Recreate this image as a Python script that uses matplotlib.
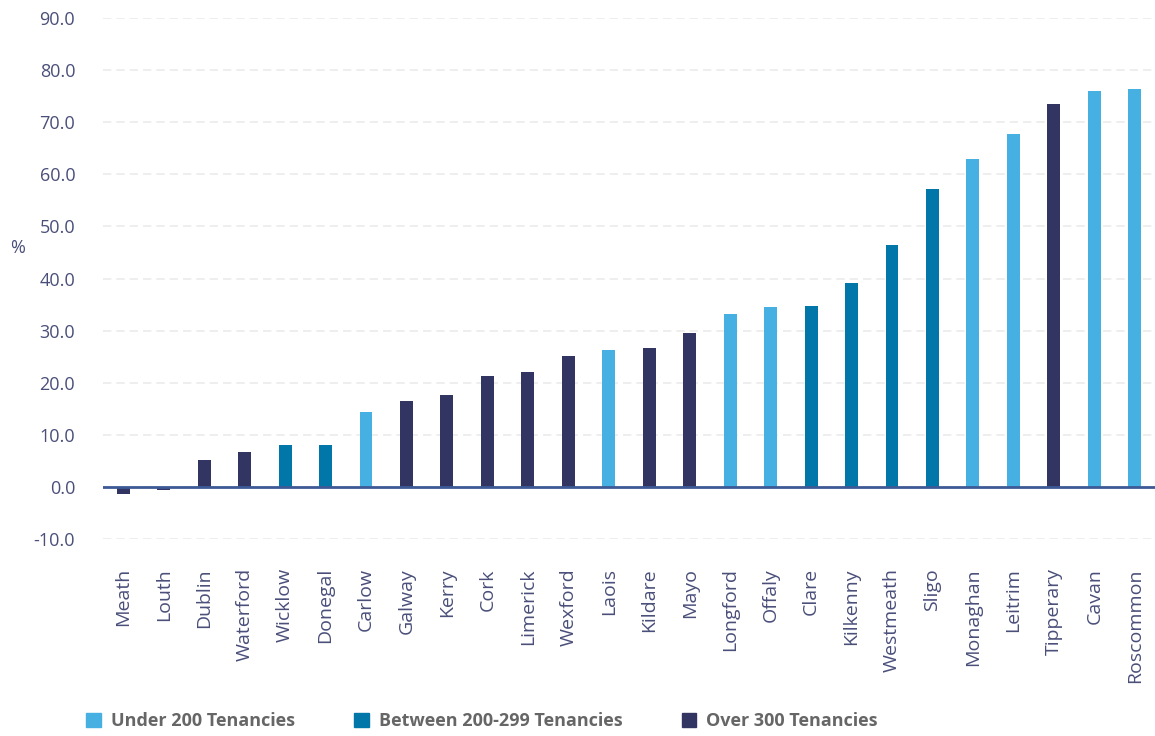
import matplotlib.pyplot as plt
from matplotlib.patches import Patch

counties = ["Meath", "Louth", "Dublin", "Waterford", "Wicklow", "Donegal", "Carlow",
            "Galway", "Kerry", "Cork", "Limerick", "Wexford", "Laois", "Kildare", "Mayo",
            "Longford", "Offaly", "Clare", "Kilkenny", "Westmeath", "Sligo", "Monaghan",
            "Leitrim", "Tipperary", "Cavan", "Roscommon"]
values = [-1.4, -0.6, 5.2, 6.7, 8.1, 8.1, 14.4, 16.5, 17.7, 21.3, 22.1, 25.1, 26.3,
          26.7, 29.6, 33.2, 34.5, 34.7, 39.2, 46.4, 57.2, 63.0, 67.8, 73.5, 76.0, 76.4]
# tenancy group per county: 0 = under 200, 1 = 200-299, 2 = over 300
groups = [2, 2, 2, 2, 1, 1, 0, 2, 2, 2, 2, 2, 0, 2, 2, 0, 0, 1, 1, 1, 1, 0, 0, 2, 0, 0]
group_labels = ["Under 200 Tenancies", "Between 200-299 Tenancies", "Over 300 Tenancies"]
group_colors = ["#45B0E1", "#0077A8", "#323562"]

plt.rcParams['font.family'] = ['Open Sans', 'DejaVu Sans']
text_col = "#4a4f7a"

fig = plt.figure(figsize=(11.55, 7.36), dpi=100)
ax = fig.add_axes([103 / 1155, 1 - 539 / 736, 1052 / 1155, 521 / 736])

x = range(len(counties))
ax.bar(x, values, width=0.32, color=[group_colors[g] for g in groups], zorder=3)
ax.axhline(0, color="#3d5a96", lw=2, zorder=4)

ax.set_xlim(-0.5, len(counties) - 0.5)
ax.set_ylim(-10, 90)
ax.set_yticks(range(-10, 91, 10))
ax.set_yticklabels([f"{v:.1f}" for v in range(-10, 91, 10)])
ax.yaxis.grid(True, color="#ebebeb", ls=(0, (5, 3)), lw=1.2, zorder=0)
ax.set_xticks(list(x))
ax.set_xticklabels(counties, rotation=90)
ax.tick_params(axis='both', length=0, labelcolor=text_col)
ax.tick_params(axis='y', pad=20, labelsize=13)
ax.tick_params(axis='x', pad=21, labelsize=14)
for s in ax.spines.values():
    s.set_visible(False)

fig.text(18 / 1155, 1 - 248 / 736, "%", fontsize=13, color=text_col, ha="center", va="center")

handles = [Patch(color=c, label=l) for c, l in zip(group_colors, group_labels)]
leg = fig.legend(handles=handles, loc="center left", bbox_to_anchor=(70 / 1155, 1 - 721 / 736),
                 ncol=3, frameon=False, handlelength=0.8, handleheight=0.8,
                 handletextpad=0.55, columnspacing=3.3,
                 prop={"weight": "bold", "size": 13})
for t in leg.get_texts():
    t.set_color("#666666")

fig.savefig("out.png", dpi=100)
